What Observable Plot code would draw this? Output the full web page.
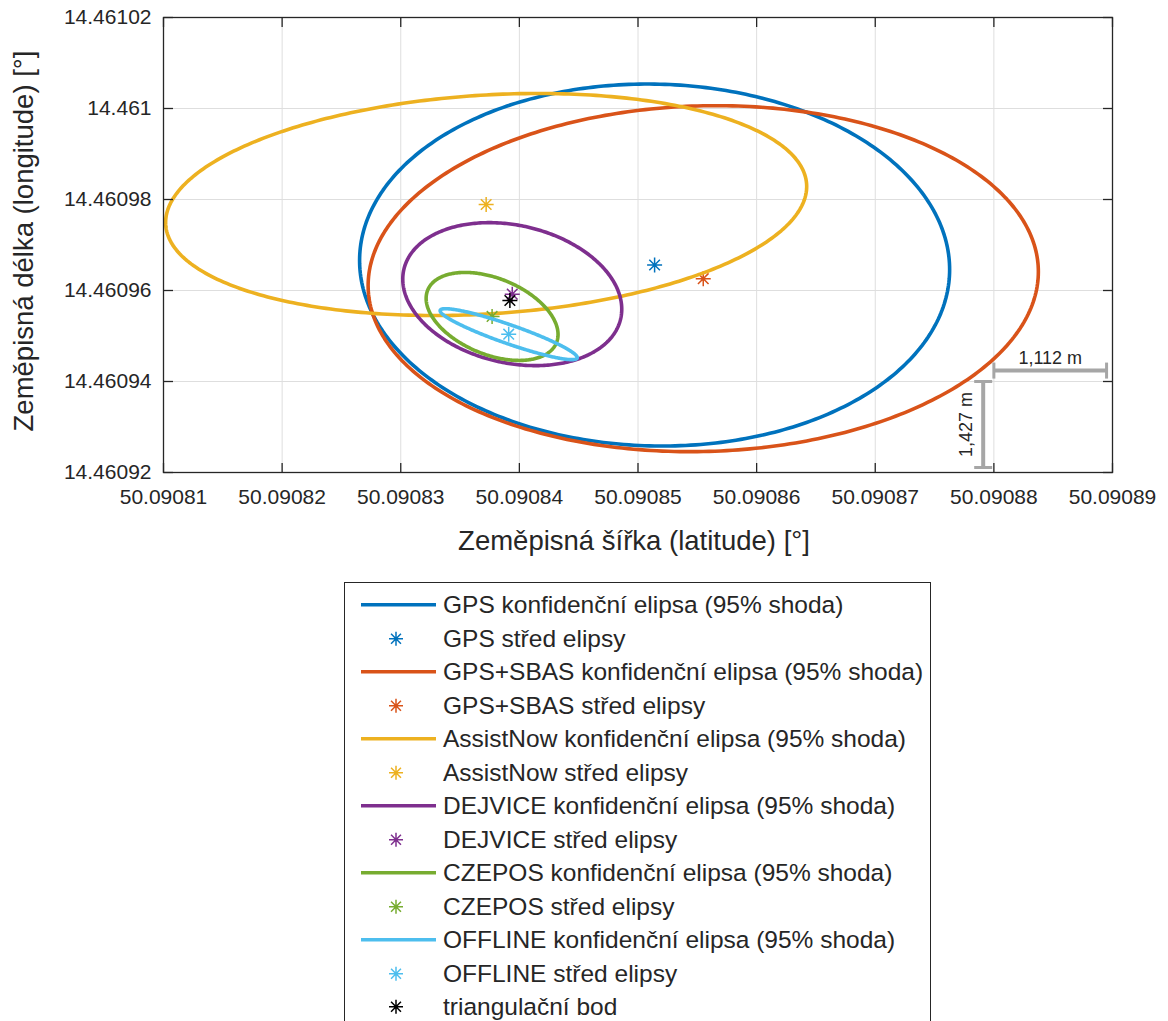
<!DOCTYPE html>
<html>
<head>
<meta charset="utf-8">
<script src="https://cdn.jsdelivr.net/npm/d3@7"></script>
<script src="https://cdn.jsdelivr.net/npm/@observablehq/plot@0.6"></script>
<style>
  html, body { margin: 0; padding: 0; background: #fff; }
  #wrap { position: relative; width: 1168px; height: 1021px; overflow: hidden; font-family: "Liberation Sans", Arial, sans-serif; }
  #chart svg { display: block; }
  #legend { position: absolute; left: 344px; top: 582px; width: 587px; height: 460px; border: 1px solid #262626; box-sizing: border-box; padding-top: 5px; background: #fff; }
  .row { position: relative; height: 33.5px; line-height: 33.5px; font-size: 24.5px; color: #262626; white-space: nowrap; }
  .row svg { position: absolute; left: 0; top: 0; }
  .row span { position: absolute; left: 98px; top: 0; }
</style>
</head>
<body>
<div id="wrap">
  <div id="chart"></div>
  <div id="legend"></div>
</div>
<script>
// Receiver configurations and their 95 % confidence ellipses
const series = ["GPS", "GPS+SBAS", "AssistNow", "DEJVICE", "CZEPOS", "OFFLINE"];
const colors = ["#0072BD", "#D95319", "#EDB120", "#7E2F8E", "#77AC30", "#4DBEEE"];

// ellipse centres (latitude, longitude) [°]
const centerLat = [50.0908514, 50.0908555, 50.0908372, 50.0908394, 50.0908377, 50.0908391];
const centerLon = [14.4609656, 14.4609626, 14.4609789, 14.4609592, 14.4609543, 14.4609504];
// half extent of each ellipse along latitude / longitude [°]
const halfLat = [2.487e-5, 2.825e-5, 2.702e-5, 0.923e-5, 0.556e-5, 0.578e-5];
const halfLon = [3.978e-5, 3.802e-5, 2.440e-5, 1.571e-5, 0.967e-5, 0.560e-5];
// correlation-like tilt between latitude and longitude
const tilt = [-0.025, 0.04, 0.162, -0.21, -0.41, -0.92];

// triangulation point
const trigLat = [50.0908392];
const trigLon = [14.4609578];

// axes
const xTicks = [50.09081, 50.09082, 50.09083, 50.09084, 50.09085, 50.09086, 50.09087, 50.09088, 50.09089];
const yTicks = [14.46092, 14.46094, 14.46096, 14.46098, 14.461, 14.46102];
const xLabel = "Zeměpisná šířka (latitude) [°]";
const yLabel = "Zeměpisná délka (longitude) [°]";

// scale bars
const barLatX = [50.09088, 50.0908895];
const barLatY = 14.4609424;
const barLatText = "1,112 m";
const barLonX = 50.0908791;
const barLonY = [14.46094, 14.4609211];
const barLonText = "1,427 m";

const textColor = "#262626";
const gridColor = "#dedede";
const barColor = "#a6a6a6";

// outline of each ellipse: x = cx + a·cos t, y = cy + b·sin(t + φ)
const ellipsePts = [];
series.forEach((name, i) => {
  const phi = Math.asin(tilt[i]);
  for (let k = 0; k <= 360; k++) {
    const t = (k / 360) * 2 * Math.PI;
    ellipsePts.push({
      name,
      lat: centerLat[i] + halfLat[i] * Math.cos(t),
      lon: centerLon[i] + halfLon[i] * Math.sin(t + phi)
    });
  }
});
const centers = series.map((name, i) => ({name, lat: centerLat[i], lon: centerLon[i]}));

// symbols: 8-arm asterisk and short one-sided tick segments
const asterisk = {
  draw(ctx, size) {
    const r = Math.sqrt(size / Math.PI), d = r * Math.SQRT1_2;
    ctx.moveTo(0, -r); ctx.lineTo(0, r);
    ctx.moveTo(-r, 0); ctx.lineTo(r, 0);
    ctx.moveTo(-d, -d); ctx.lineTo(d, d);
    ctx.moveTo(-d, d); ctx.lineTo(d, -d);
  }
};
const seg = (dx, dy) => ({
  draw(ctx, size) {
    const r = Math.sqrt(size / Math.PI);
    ctx.moveTo(0, 0); ctx.lineTo(dx * r, dy * r);
  }
});
const capV = {draw(ctx, size) { const r = Math.sqrt(size / Math.PI); ctx.moveTo(0, -r); ctx.lineTo(0, r); }};
const capH = {draw(ctx, size) { const r = Math.sqrt(size / Math.PI); ctx.moveTo(-r, 0); ctx.lineTo(r, 0); }};

const marks = [
  Plot.ruleX(xTicks, {x: d => d, stroke: gridColor, strokeWidth: 1}),
  Plot.ruleY(yTicks, {y: d => d, stroke: gridColor, strokeWidth: 1})
];
series.forEach((name, i) => {
  marks.push(Plot.line(ellipsePts.filter(p => p.name === name), {x: "lat", y: "lon", stroke: colors[i], strokeWidth: 3.6}));
  marks.push(Plot.dot([centers[i]], {x: "lat", y: "lon", symbol: asterisk, r: 7.5, fill: "none", stroke: colors[i], strokeWidth: 1.5}));
});
marks.push(Plot.dot(trigLat.map((lat, i) => ({lat, lon: trigLon[i]})), {x: "lat", y: "lon", symbol: asterisk, r: 7.5, fill: "none", stroke: "#000", strokeWidth: 1.5}));

// scale bars with end caps
marks.push(
  Plot.link([0], {x1: barLatX[0], x2: barLatX[1], y1: barLatY, y2: barLatY, stroke: barColor, strokeWidth: 4}),
  Plot.dot(barLatX, {x: d => d, y: () => barLatY, symbol: capV, r: 8, fill: "none", stroke: barColor, strokeWidth: 3}),
  Plot.text([barLatText], {x: (barLatX[0] + barLatX[1]) / 2, y: barLatY, dy: -12, text: d => d, fontSize: 18, fill: textColor}),
  Plot.link([0], {x1: barLonX, x2: barLonX, y1: barLonY[0], y2: barLonY[1], stroke: barColor, strokeWidth: 4}),
  Plot.dot(barLonY, {x: () => barLonX, y: d => d, symbol: capH, r: 9, fill: "none", stroke: barColor, strokeWidth: 3}),
  Plot.text([barLonText], {x: barLonX, y: (barLonY[0] + barLonY[1]) / 2, dx: -17, rotate: -90, text: d => d, fontSize: 18, fill: textColor})
);

// box, inward ticks on all four sides, tick labels, axis titles
marks.push(
  Plot.frame({stroke: textColor, strokeWidth: 1.3}),
  Plot.dot(xTicks, {x: d => d, frameAnchor: "bottom", symbol: seg(0, -1), r: 9.5, fill: "none", stroke: textColor, strokeWidth: 1.3}),
  Plot.dot(xTicks, {x: d => d, frameAnchor: "top", symbol: seg(0, 1), r: 9.5, fill: "none", stroke: textColor, strokeWidth: 1.3}),
  Plot.dot(yTicks, {y: d => d, frameAnchor: "left", symbol: seg(1, 0), r: 9.5, fill: "none", stroke: textColor, strokeWidth: 1.3}),
  Plot.dot(yTicks, {y: d => d, frameAnchor: "right", symbol: seg(-1, 0), r: 9.5, fill: "none", stroke: textColor, strokeWidth: 1.3}),
  Plot.text(xTicks, {x: d => d, frameAnchor: "bottom", lineAnchor: "middle", dy: 25, text: d => String(d), fontSize: 21, fill: textColor}),
  Plot.text(yTicks, {y: d => d, frameAnchor: "left", dx: -12, textAnchor: "end", lineAnchor: "middle", text: d => String(d), fontSize: 21, fill: textColor}),
  Plot.text([xLabel], {frameAnchor: "bottom", lineAnchor: "middle", textAnchor: "middle", dx: -4, dy: 69, text: d => d, fontSize: 27.5, fill: textColor}),
  Plot.text([yLabel], {frameAnchor: "left", textAnchor: "middle", lineAnchor: "middle", dx: -139, dy: -4, rotate: -90, text: d => d, fontSize: 27.5, fill: textColor})
);

const chart = Plot.plot({
  width: 1168,
  height: 560,
  marginLeft: 163,
  marginRight: 56,
  marginTop: 17,
  marginBottom: 88,
  x: {domain: [xTicks[0], xTicks[xTicks.length - 1]], axis: null},
  y: {domain: [yTicks[0], yTicks[yTicks.length - 1]], axis: null},
  style: {fontFamily: "'Liberation Sans', Arial, sans-serif", background: "#fff", overflow: "visible"},
  marks
});
document.getElementById("chart").appendChild(chart);

// legend below the axes
const legend = d3.select("#legend");
const entries = [];
series.forEach((name, i) => {
  entries.push({kind: "line", color: colors[i], text: `${name} konfidenční elipsa (95% shoda)`});
  entries.push({kind: "star", color: colors[i], text: `${name} střed elipsy`});
});
entries.push({kind: "star", color: "#000", text: "triangulační bod"});

const starPath = (() => {
  const p = d3.path(); asterisk.draw(p, Math.PI * 7 * 7); return p.toString();
})();
entries.forEach(e => {
  const row = legend.append("div").attr("class", "row");
  const svg = row.append("svg").attr("width", 98).attr("height", 33.5);
  if (e.kind === "line") {
    svg.append("line").attr("x1", 16).attr("x2", 91).attr("y1", 16.75).attr("y2", 16.75)
      .attr("stroke", e.color).attr("stroke-width", 3.6);
  } else {
    svg.append("path").attr("d", starPath).attr("transform", "translate(51,16.75)")
      .attr("fill", "none").attr("stroke", e.color).attr("stroke-width", 1.5);
  }
  row.append("span").text(e.text);
});
</script>
</body>
</html>
